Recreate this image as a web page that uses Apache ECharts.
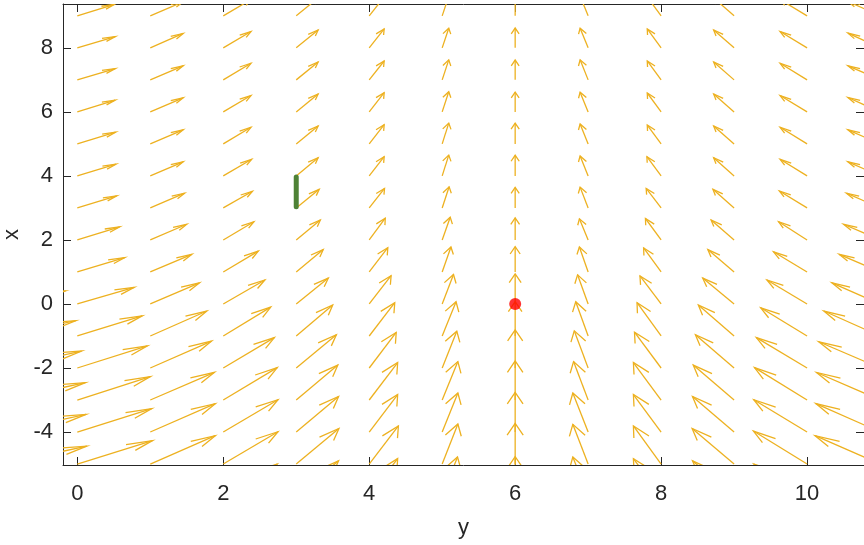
<!DOCTYPE html>
<html>
<head>
<meta charset="utf-8">
<script src="https://cdn.jsdelivr.net/npm/echarts@6/dist/echarts.min.js"></script>
<style>html,body{margin:0;padding:0;background:#fff}#c{width:864px;height:545px}</style>
</head>
<body>
<div id="c"></div>
<script>
// grid positions of the arrows: horizontal axis "y", vertical axis "x"
const colsY = [-1, 0, 1, 2, 3, 4, 5, 6, 7, 8, 9, 10, 11];
const rowsX = [9, 8, 7, 6, 5, 4, 3, 2, 1, 0, -1, -2, -3, -4, -5, -6];
// arrow components along the horizontal axis (one row per rowsX entry)
const U = [
  [.56, .51, .45, .38, .30, .205, .09, 0, -.11, -.19, -.28, -.37, -.44],
  [.57, .52, .45, .38, .30, .205, .09, 0, -.11, -.19, -.28, -.37, -.44],
  [.57, .52, .45, .38, .30, .205, .09, 0, -.11, -.19, -.28, -.37, -.44],
  [.57, .52, .45, .38, .30, .205, .09, 0, -.11, -.19, -.28, -.37, -.44],
  [.58, .525, .45, .38, .30, .205, .09, 0, -.11, -.19, -.28, -.37, -.44],
  [.58, .53, .45, .39, .30, .205, .09, 0, -.11, -.195, -.28, -.37, -.44],
  [.59, .54, .47, .40, .315, .21, .095, 0, -.11, -.205, -.29, -.38, -.46],
  [.64, .58, .50, .42, .33, .22, .11, 0, -.12, -.215, -.315, -.39, -.50],
  [.72, .65, .57, .48, .37, .255, .12, 0, -.12, -.24, -.36, -.46, -.56],
  [.84, .78, .675, .57, .44, .30, .155, 0, -.145, -.29, -.43, -.55, -.66],
  [.98, .89, .775, .65, .50, .35, .19, 0, -.17, -.33, -.49, -.635, -.77],
  [1.06, .96, .84, .70, .55, .37, .20, 0, -.19, -.365, -.53, -.695, -.84],
  [1.11, 1.0, .88, .74, .57, .39, .215, 0, -.20, -.38, -.56, -.72, -.87],
  [1.12, 1.02, .89, .75, .58, .39, .215, 0, -.21, -.38, -.57, -.73, -.88],
  [1.13, 1.03, .89, .75, .585, .40, .215, 0, -.21, -.38, -.575, -.735, -.89],
  [1.12, 1.02, .88, .74, .58, .39, .21, 0, -.21, -.38, -.57, -.73, -.88]
];
// arrow components along the vertical axis
const V = [
  [.27, .36, .44, .51, .56, .59, .615, .62, .615, .59, .56, .51, .45],
  [.27, .35, .45, .51, .56, .59, .615, .62, .615, .59, .56, .51, .46],
  [.27, .35, .44, .52, .56, .59, .625, .62, .625, .59, .56, .52, .44],
  [.28, .37, .44, .51, .56, .60, .63, .62, .615, .59, .56, .51, .45],
  [.28, .365, .44, .52, .56, .60, .65, .645, .625, .59, .56, .52, .44],
  [.28, .365, .44, .52, .57, .60, .65, .645, .625, .60, .57, .52, .44],
  [.29, .375, .46, .52, .58, .61, .66, .64, .65, .61, .58, .53, .46],
  [.31, .41, .49, .57, .625, .68, .71, .69, .66, .67, .625, .57, .49],
  [.35, .45, .55, .65, .70, .76, .78, .79, .78, .75, .70, .63, .55],
  [.41, .52, .66, .75, .81, .885, .92, .94, .91, .875, .81, .75, .66],
  [.48, .63, .78, .90, .97, 1.04, 1.07, 1.07, 1.07, 1.04, .97, .88, .78],
  [.53, .69, .84, .95, 1.04, 1.11, 1.15, 1.19, 1.16, 1.12, 1.04, .95, .82],
  [.54, .73, .865, 1.01, 1.09, 1.17, 1.20, 1.22, 1.20, 1.17, 1.09, 1.01, .86],
  [.55, .73, .885, 1.01, 1.11, 1.17, 1.22, 1.24, 1.22, 1.17, 1.11, 1.01, .89],
  [.56, .73, .885, 1.01, 1.11, 1.19, 1.25, 1.27, 1.24, 1.19, 1.11, 1.03, .885],
  [.55, .72, .87, 1.0, 1.10, 1.17, 1.22, 1.23, 1.22, 1.17, 1.10, 1.0, .87]
];
const xTicks = [0, 2, 4, 6, 8, 10];
const yTicks = [-4, -2, 0, 2, 4, 6, 8];
const equilibrium = [[6, 0]];
const segment = [[3, 3.04], [3, 3.97]];

const quiverData = [];
rowsX.forEach((v, i) => colsY.forEach((h, j) => quiverData.push([h, v, U[i][j], V[i][j]])));

const AXC = '#262626';
const FONT = '"Liberation Sans", Arial, Helvetica, sans-serif';
const HA = 0.29, HB = 0.3;
const ARROW = '#EDB120';

function renderArrow(params, api) {
  const h = api.value(0), v = api.value(1), du = api.value(2), dv = api.value(3);
  const tx = h + du, ty = v + dv;
  const p0 = api.coord([h, v]);
  const p1 = api.coord([tx, ty]);
  const w1 = api.coord([tx - HA * (du + HB * dv), ty - HA * (dv - HB * du)]);
  const w2 = api.coord([tx - HA * (du - HB * dv), ty - HA * (dv + HB * du)]);
  const cs = params.coordSys;
  return {
    type: 'group',
    clipPath: { type: 'rect', shape: { x: cs.x, y: cs.y, width: cs.width, height: cs.height } },
    children: [
      { type: 'line', shape: { x1: p0[0], y1: p0[1], x2: p1[0], y2: p1[1] },
        style: { stroke: ARROW, lineWidth: 1.3 } },
      { type: 'polyline', shape: { points: [w1, p1, w2] },
        style: { stroke: ARROW, fill: null, lineWidth: 1.3 } }
    ]
  };
}

const XMIN = -0.196, XMAX = 10.78, YMIN = -5.03, YMAX = 9.37;
const tickStyle = { show: true, inside: true, length: 8, lineStyle: { color: AXC, width: 1 } };
const lineStyle = { show: true, onZero: false, lineStyle: { color: AXC, width: 1 } };

const chart = echarts.init(document.getElementById('c'), null, { renderer: 'canvas' });
chart.setOption({
  animation: false,
  backgroundColor: '#fff',
  grid: { left: 63, right: 0, top: 4, bottom: 80, containLabel: false, outerBoundsMode: 'none' },
  xAxis: [
    { type: 'value', min: XMIN, max: XMAX, position: 'bottom',
      axisLine: lineStyle, splitLine: { show: false },
      axisTick: Object.assign({ customValues: xTicks }, tickStyle),
      axisLabel: { customValues: xTicks, fontSize: 22, color: AXC, fontFamily: FONT, margin: 18 },
      name: 'y', nameLocation: 'middle', nameGap: 52,
      nameTextStyle: { fontSize: 22, color: AXC, fontFamily: FONT } },
    { type: 'value', min: XMIN, max: XMAX, position: 'top',
      axisLine: lineStyle, splitLine: { show: false },
      axisTick: Object.assign({ customValues: xTicks }, tickStyle),
      axisLabel: { show: false } }
  ],
  yAxis: [
    { type: 'value', min: YMIN, max: YMAX, position: 'left',
      axisLine: lineStyle, splitLine: { show: false },
      axisTick: Object.assign({ customValues: yTicks }, tickStyle),
      axisLabel: { customValues: yTicks, fontSize: 22, color: AXC, fontFamily: FONT, margin: 10 },
      name: 'x', nameLocation: 'middle', nameGap: 40,
      nameTextStyle: { fontSize: 22, color: AXC, fontFamily: FONT } },
    { type: 'value', min: YMIN, max: YMAX, position: 'right',
      axisLine: lineStyle, splitLine: { show: false },
      axisTick: Object.assign({ customValues: yTicks }, tickStyle),
      axisLabel: { show: false } }
  ],
  series: [
    { type: 'custom', renderItem: renderArrow, data: quiverData, z: 2,
      xAxisIndex: 0, yAxisIndex: 0, encode: { x: 0, y: 1 }, silent: true },
    { type: 'line', data: segment, z: 3, showSymbol: false, symbol: 'none',
      lineStyle: { color: '#4E8236', width: 5, cap: 'round' }, silent: true },
    { type: 'scatter', data: equilibrium, z: 4, symbol: 'circle', symbolSize: 12,
      itemStyle: { color: '#FF0000' }, silent: true }
  ]
});
</script>
</body>
</html>
